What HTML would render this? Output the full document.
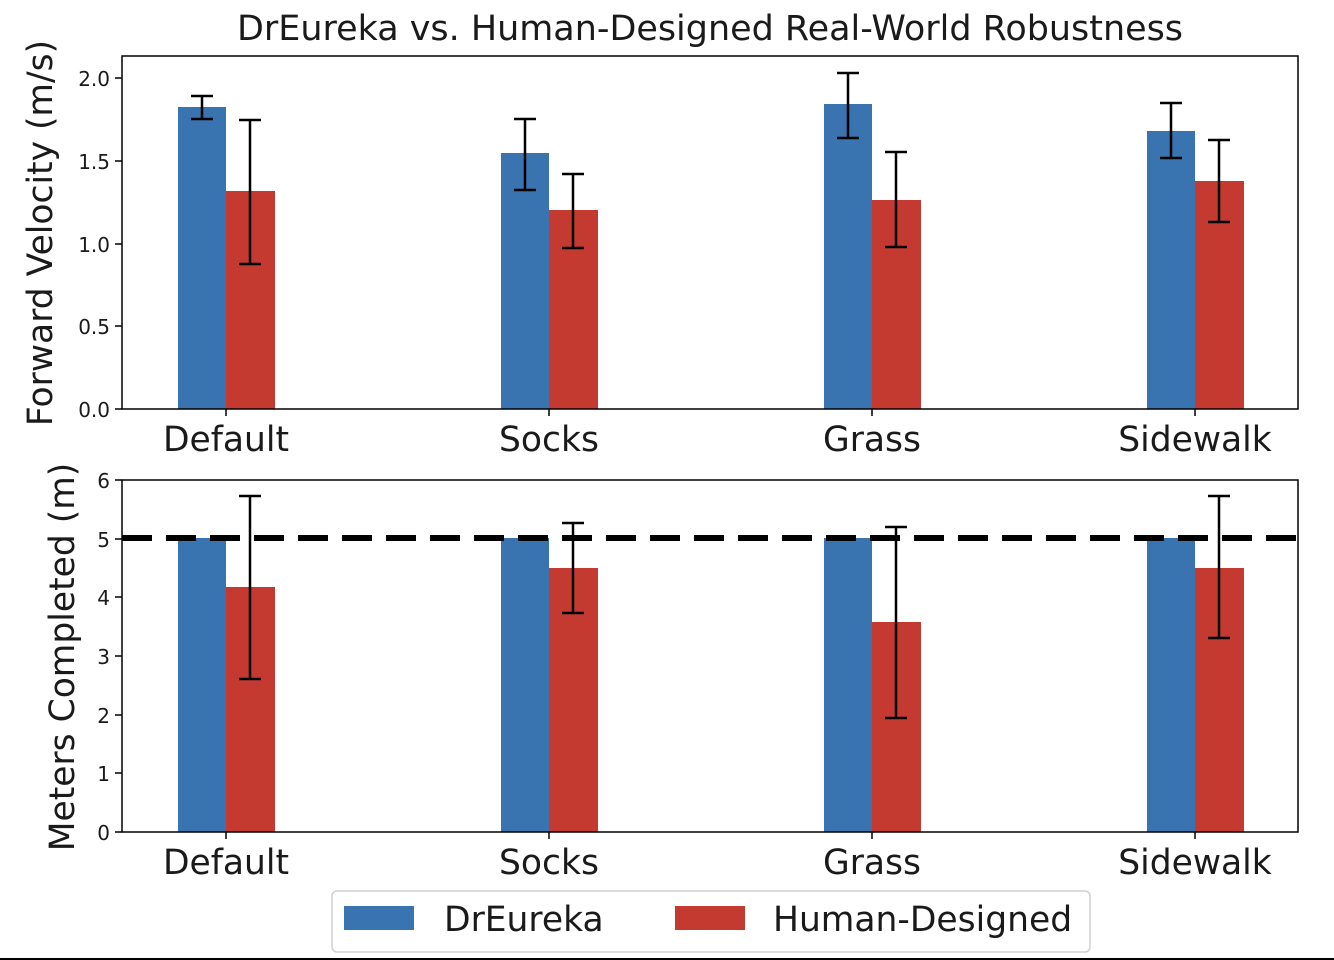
<!DOCTYPE html>
<html><head><meta charset="utf-8"><style>
html,body{margin:0;padding:0;background:#fff}
svg{display:block}
text{font-family:"DejaVu Sans","Liberation Sans",sans-serif;fill:#1a1a1a}
</style></head><body>
<svg width="1334" height="960" viewBox="0 0 1334 960" xmlns="http://www.w3.org/2000/svg">
<rect width="1334" height="960" fill="#fff"/>
<text x="710" y="40" font-size="34.5" text-anchor="middle" textLength="946" lengthAdjust="spacingAndGlyphs">DrEureka vs. Human-Designed Real-World Robustness</text>

<g>
<rect x="178" y="107" width="48" height="302" fill="#3a74b0"/>
<rect x="226" y="191" width="49" height="218" fill="#c43a30"/>
<rect x="501" y="153" width="48" height="256" fill="#3a74b0"/>
<rect x="549" y="210" width="49" height="199" fill="#c43a30"/>
<rect x="824" y="104" width="48" height="305" fill="#3a74b0"/>
<rect x="872" y="200" width="49" height="209" fill="#c43a30"/>
<rect x="1147" y="131" width="48" height="278" fill="#3a74b0"/>
<rect x="1195" y="181" width="49" height="228" fill="#c43a30"/>
</g>
<g stroke="#000" stroke-width="2.5" fill="none">
<path d="M202 96V119M191 96H213M191 119H213"/>
<path d="M250 120V264M239 120H261M239 264H261"/>
<path d="M525 119V190M514 119H536M514 190H536"/>
<path d="M573 174V248M562 174H584M562 248H584"/>
<path d="M848 73V138M837 73H859M837 138H859"/>
<path d="M896 152V247M885 152H907M885 247H907"/>
<path d="M1171 103V158M1160 103H1182M1160 158H1182"/>
<path d="M1219 140V222M1208 140H1230M1208 222H1230"/>
</g>
<rect x="122" y="56" width="1176" height="353" fill="none" stroke="#000" stroke-width="1.5"/>
<g stroke="#000" stroke-width="1.5">
<path d="M115 78H122M115 161H122M115 244H122M115 326H122M115 409H122"/>
<path d="M226 409V416M549 409V416M872 409V416M1195 409V416"/>
</g>
<g font-size="20" text-anchor="end">
<text x="110" y="86">2.0</text><text x="110" y="169">1.5</text><text x="110" y="252">1.0</text><text x="110" y="334">0.5</text><text x="110" y="417">0.0</text>
</g>
<g font-size="34.5" text-anchor="middle">
<text x="226" y="451">Default</text><text x="549" y="451">Socks</text><text x="872" y="451">Grass</text><text x="1195" y="451">Sidewalk</text>
</g>
<text transform="translate(52,233) rotate(-90)" font-size="34.5" text-anchor="middle">Forward Velocity (m/s)</text>

<g>
<rect x="178" y="538" width="48" height="294" fill="#3a74b0"/>
<rect x="226" y="587" width="49" height="245" fill="#c43a30"/>
<rect x="501" y="538" width="48" height="294" fill="#3a74b0"/>
<rect x="549" y="568" width="49" height="264" fill="#c43a30"/>
<rect x="824" y="538" width="48" height="294" fill="#3a74b0"/>
<rect x="872" y="622" width="49" height="210" fill="#c43a30"/>
<rect x="1147" y="538" width="48" height="294" fill="#3a74b0"/>
<rect x="1195" y="568" width="49" height="264" fill="#c43a30"/>
</g>
<g stroke="#000" stroke-width="2.5" fill="none">
<path d="M250 496V679M239 496H261M239 679H261"/>
<path d="M573 523V613M562 523H584M562 613H584"/>
<path d="M896 527V718M885 527H907M885 718H907"/>
<path d="M1219 496V638M1208 496H1230M1208 638H1230"/>
</g>
<line x1="122" y1="538" x2="1298" y2="538" stroke="#000" stroke-width="6" stroke-dasharray="30,14"/>
<rect x="122" y="480" width="1176" height="352" fill="none" stroke="#000" stroke-width="1.5"/>
<g stroke="#000" stroke-width="1.5">
<path d="M115 480H122M115 539H122M115 597H122M115 656H122M115 715H122M115 773H122M115 832H122"/>
<path d="M226 832V839M549 832V839M872 832V839M1195 832V839"/>
</g>
<g font-size="20" text-anchor="end">
<text x="110" y="488">6</text><text x="110" y="547">5</text><text x="110" y="605">4</text><text x="110" y="664">3</text><text x="110" y="723">2</text><text x="110" y="781">1</text><text x="110" y="840">0</text>
</g>
<g font-size="34.5" text-anchor="middle">
<text x="226" y="874">Default</text><text x="549" y="874">Socks</text><text x="872" y="874">Grass</text><text x="1195" y="874">Sidewalk</text>
</g>
<text transform="translate(74,657) rotate(-90)" font-size="34.5" text-anchor="middle">Meters Completed (m)</text>

<rect x="332" y="891" width="758" height="61" rx="5" fill="#fff" stroke="#d0d0d0" stroke-width="1.5"/>
<rect x="344" y="906" width="70" height="24" fill="#3a74b0"/>
<text x="444" y="931" font-size="34.5">DrEureka</text>
<rect x="675" y="906" width="70" height="24" fill="#c43a30"/>
<text x="773" y="931" font-size="34.5">Human-Designed</text>
<line x1="0" y1="959" x2="1334" y2="959" stroke="#000" stroke-width="2"/>
</svg>
</body></html>
